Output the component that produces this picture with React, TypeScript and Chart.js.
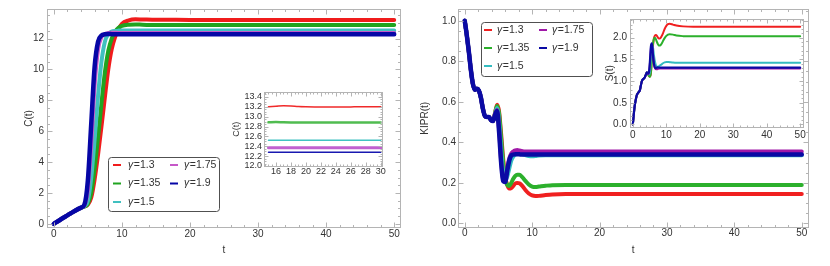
import React, { useEffect, useRef } from 'react';
import { Chart, registerables } from 'chart.js';
Chart.register(...registerables);

const FONT = '"Liberation Sans", Arial, sans-serif';
const TXT = '#333';
const FRAME = '#b4b4b4';

const LABELS = ['γ=1.3', 'γ=1.35', 'γ=1.5', 'γ=1.75', 'γ=1.9'];

// ---------- Left main: C(t) ----------
const tC = [0, 1, 2, 3, 4, 4.5, 5, 5.5, 6, 6.5, 7, 7.5, 8, 8.5, 9, 9.5, 10, 11, 12, 13, 15, 18, 22, 30, 40, 50];
const cG130 = [0, 0.28, 0.55, 0.82, 1.05, 1.12, 1.25, 1.7, 2.9, 4.5, 6.3, 8.2, 10.0, 11.3, 12.1, 12.6, 12.95, 13.18, 13.25, 13.24, 13.22, 13.22, 13.2, 13.2, 13.2, 13.2];
const cG135 = [0, 0.28, 0.55, 0.82, 1.05, 1.12, 1.3, 2.0, 3.6, 5.6, 7.8, 9.8, 11.2, 12.0, 12.45, 12.7, 12.82, 12.9, 12.92, 12.9, 12.88, 12.88, 12.88, 12.88, 12.88, 12.88];
const cG150 = [0, 0.28, 0.55, 0.82, 1.05, 1.15, 1.5, 3.0, 5.5, 8.3, 10.5, 11.8, 12.3, 12.45, 12.5, 12.52, 12.53, 12.53, 12.52, 12.52, 12.52, 12.52, 12.52, 12.52, 12.52, 12.52];
const cG175 = [0, 0.28, 0.55, 0.82, 1.05, 1.2, 2.2, 5.2, 9.0, 11.3, 12.1, 12.3, 12.36, 12.38, 12.38, 12.37, 12.37, 12.37, 12.37, 12.37, 12.37, 12.37, 12.37, 12.37, 12.37, 12.37];
const cG190 = [0, 0.28, 0.55, 0.82, 1.05, 1.25, 2.8, 6.5, 10.2, 11.8, 12.2, 12.28, 12.3, 12.29, 12.28, 12.28, 12.28, 12.28, 12.28, 12.28, 12.28, 12.28, 12.28, 12.28, 12.28, 12.28];

// ---------- Left inset: C(t), t in [15,30] ----------
const tI = [15, 16, 17, 18, 19, 20, 22, 24, 26, 28, 30];
const iG130 = [13.2, 13.21, 13.22, 13.215, 13.205, 13.2, 13.195, 13.195, 13.198, 13.2, 13.2];
const iG135 = [12.885, 12.89, 12.885, 12.882, 12.88, 12.88, 12.88, 12.88, 12.88, 12.88, 12.88];
const iG150 = [12.52, 12.52, 12.52, 12.52, 12.52, 12.52, 12.52, 12.52, 12.52, 12.52, 12.52];
const iG175 = [12.37, 12.37, 12.37, 12.37, 12.37, 12.37, 12.37, 12.37, 12.37, 12.37, 12.37];
const iG190 = [12.28, 12.28, 12.28, 12.28, 12.28, 12.28, 12.28, 12.28, 12.28, 12.28, 12.28];

// ---------- Right: KIPR(t) and S(t) ----------
const tD = [0, 0.3, 0.6, 0.9, 1.2, 1.5, 1.8, 2.1, 2.4, 2.7, 3.0, 3.3, 3.6, 3.9, 4.2,
  4.5, 4.8, 5.1, 5.4, 5.7, 6.0, 6.3, 6.6, 6.9, 7.2, 7.5, 7.8, 8.1,
  8.5, 9, 9.5, 10, 10.5, 11, 12, 13, 15, 18, 22, 30, 40, 50];

const kEarly = [1.0, 0.93, 0.85, 0.76, 0.69, 0.66, 0.665, 0.655, 0.62, 0.565, 0.53, 0.525, 0.525, 0.51, 0.505];
const kG130 = [...kEarly, 0.545, 0.585, 0.55, 0.44, 0.32, 0.23, 0.19, 0.172, 0.175, 0.185, 0.197, 0.2, 0.198,
  0.187, 0.165, 0.148, 0.138, 0.135, 0.136, 0.14, 0.143, 0.145, 0.145, 0.145, 0.145, 0.145, 0.145];
const kG135 = [...kEarly, 0.545, 0.58, 0.54, 0.42, 0.3, 0.22, 0.19, 0.185, 0.2, 0.22, 0.235, 0.24, 0.24,
  0.23, 0.21, 0.192, 0.182, 0.18, 0.182, 0.186, 0.189, 0.19, 0.19, 0.19, 0.19, 0.19, 0.19];
const kG150 = [...kEarly, 0.54, 0.57, 0.5, 0.36, 0.25, 0.215, 0.23, 0.27, 0.31, 0.33, 0.34, 0.345, 0.345,
  0.342, 0.337, 0.333, 0.332, 0.333, 0.335, 0.336, 0.336, 0.336, 0.336, 0.336, 0.336, 0.336, 0.336];
const kG175 = [...kEarly, 0.54, 0.56, 0.46, 0.31, 0.215, 0.21, 0.27, 0.32, 0.345, 0.355, 0.36, 0.362, 0.36,
  0.357, 0.355, 0.355, 0.355, 0.355, 0.355, 0.355, 0.355, 0.355, 0.355, 0.355, 0.355, 0.355, 0.355];
const kG190 = [...kEarly, 0.535, 0.555, 0.45, 0.3, 0.21, 0.205, 0.26, 0.31, 0.335, 0.34, 0.342, 0.342, 0.341,
  0.34, 0.34, 0.34, 0.34, 0.34, 0.34, 0.34, 0.34, 0.34, 0.34, 0.34, 0.34, 0.34, 0.34];

const sEarly = [0, 0.25, 0.45, 0.58, 0.68, 0.72, 0.75, 0.79, 0.9, 1.0, 1.04, 1.06, 1.09, 1.15, 1.2];
const sG130 = [...sEarly, 1.16, 1.12, 1.1, 1.18, 1.5, 1.8, 1.98, 2.05, 2.06, 2.04, 2.0, 1.98, 1.98,
  2.02, 2.1, 2.2, 2.27, 2.31, 2.32, 2.3, 2.28, 2.26, 2.25, 2.25, 2.25, 2.25, 2.25];
const sG135 = [...sEarly, 1.16, 1.12, 1.1, 1.2, 1.55, 1.85, 1.98, 2.0, 1.96, 1.9, 1.85, 1.82, 1.82,
  1.85, 1.92, 1.99, 2.04, 2.07, 2.08, 2.07, 2.05, 2.035, 2.03, 2.03, 2.03, 2.03, 2.03];
const sG150 = [...sEarly, 1.16, 1.15, 1.2, 1.55, 1.8, 1.78, 1.6, 1.45, 1.36, 1.33, 1.33, 1.34, 1.36,
  1.38, 1.41, 1.43, 1.44, 1.44, 1.435, 1.425, 1.42, 1.42, 1.42, 1.42, 1.42, 1.42, 1.42];
const sG175 = [...sEarly, 1.16, 1.18, 1.4, 1.75, 1.86, 1.65, 1.42, 1.3, 1.27, 1.27, 1.28, 1.285, 1.29,
  1.29, 1.29, 1.29, 1.29, 1.29, 1.29, 1.29, 1.29, 1.29, 1.29, 1.29, 1.29, 1.29, 1.29];
const sG190 = [...sEarly, 1.17, 1.2, 1.45, 1.8, 1.87, 1.6, 1.4, 1.31, 1.3, 1.31, 1.315, 1.31, 1.31,
  1.31, 1.31, 1.31, 1.31, 1.31, 1.31, 1.31, 1.31, 1.31, 1.31, 1.31, 1.31, 1.31, 1.31];

// ---------- Tick labels ----------
const xTicksMain = [0, 10, 20, 30, 40, 50];
const yTicksC = [0, 2, 4, 6, 8, 10, 12];
const yTicksK = [0, 0.2, 0.4, 0.6, 0.8, 1.0];
const xTicksInsetC = [16, 18, 20, 22, 24, 26, 28, 30];
const yTicksInsetC = [12.0, 12.2, 12.4, 12.6, 12.8, 13.0, 13.2, 13.4];
const yTicksS = [0, 0.5, 1.0, 1.5, 2.0];

const colorsLeft = ['#f01c1c', '#20a420', '#40c0c0', '#c658c8', '#0606a6'];
const colorsLeftInset = ['#f02a2a', '#50bc50', '#40c2c2', '#c060d0', '#1818b0'];
const colorsRight = ['#f02020', '#2cb02c', '#34bcc0', '#a018a8', '#0a0aa4'];

// ---------- plugins ----------
const framePlugin = {
  id: 'frame',
  beforeDatasetsDraw(chart: any, _a: any, o: any) {
    if (!o || !o.fill) return;
    const { ctx, chartArea: a } = chart;
    ctx.save();
    ctx.fillStyle = o.fill;
    ctx.fillRect(a.left, a.top, a.right - a.left, a.bottom - a.top);
    ctx.restore();
  },
  afterDraw(chart: any, _a: any, o: any) {
    if (!o || !o.color) return;
    const { ctx, chartArea: a, scales } = chart;
    const xs = scales.x, ys = scales.y;
    ctx.save();
    ctx.strokeStyle = o.color;
    ctx.lineWidth = 1;
    const L = Math.round(a.left) + 0.5, R = Math.round(a.right) - 0.5;
    const T = Math.round(a.top) + 0.5, B = Math.round(a.bottom) - 0.5;
    ctx.strokeRect(L, T, R - L, B - T);
    ctx.beginPath();
    const run = (sc: any, step: number, len: number, horiz: boolean) => {
      const start = Math.ceil((sc.min - 1e-9) / step);
      for (let k = start; k * step <= sc.max + 1e-9; k++) {
        const p = Math.round(sc.getPixelForValue(k * step)) + 0.5;
        if (horiz) {
          ctx.moveTo(p, B); ctx.lineTo(p, B - len);
          ctx.moveTo(p, T); ctx.lineTo(p, T + len);
        } else {
          ctx.moveTo(L, p); ctx.lineTo(L + len, p);
          ctx.moveTo(R, p); ctx.lineTo(R - len, p);
        }
      }
    };
    run(xs, o.xMajor, o.majorLen, true);
    run(xs, o.xMinor, o.minorLen, true);
    run(ys, o.yMajor, o.majorLen, false);
    run(ys, o.yMinor, o.minorLen, false);
    ctx.stroke();
    ctx.restore();
  },
};

const legendPlugin = {
  id: 'glegend',
  afterDraw(chart: any, _a: any, o: any) {
    if (!o || !o.box) return;
    const { ctx } = chart;
    const [bx, by, bw, bh] = o.box;
    ctx.save();
    ctx.beginPath();
    if (ctx.roundRect) ctx.roundRect(bx + 0.5, by + 0.5, bw, bh, 3);
    else ctx.rect(bx + 0.5, by + 0.5, bw, bh);
    ctx.fillStyle = '#fff';
    ctx.fill();
    ctx.strokeStyle = '#505050';
    ctx.lineWidth = 1;
    ctx.stroke();
    chart.data.datasets.forEach((ds: any, i: number) => {
      const [col, row] = o.place[i];
      const y = o.rows[row];
      const [lx, tx] = o.cols[col];
      ctx.strokeStyle = ds.borderColor;
      ctx.lineWidth = 2;
      ctx.beginPath();
      ctx.moveTo(lx, y);
      ctx.lineTo(lx + 8, y);
      ctx.stroke();
      const label: string = ds.label;
      ctx.fillStyle = TXT;
      ctx.textBaseline = 'middle';
      ctx.textAlign = 'left';
      ctx.font = `italic ${o.size}px ${FONT}`;
      ctx.fillText(label[0], tx, y);
      const w = ctx.measureText(label[0]).width;
      ctx.font = `${o.size}px ${FONT}`;
      ctx.fillText(label.slice(1), tx + w + 0.5, y);
    });
    ctx.restore();
  },
};

type Spec = {
  box: { x: number; y: number; w: number; h: number };
  area: { l: number; t: number; r: number; b: number };
  t: number[];
  ys: number[][];
  colors: string[];
  widths: number[];
  xMin: number; xMax: number; xTicks: number[]; xDec: number; xMinor: number; xMajor: number;
  yMin: number; yMax: number; yTicks: number[]; yDec: number; yMinor: number; yMajor: number;
  xTitle?: string; yTitle: string;
  tickSize: number; titleSize: number;
  yTitlePad: number; xTitlePad: number;
  xLabelPad: number; yLabelPad: number;
  majorLen: number; minorLen: number;
  fill?: string;
  legend?: any;
};

function buildConfig(s: Spec): any {
  const padTop = s.area.t - s.box.y;
  const padRight = s.box.x + s.box.w - s.area.r;
  const yW = s.area.l - s.box.x;
  const xH = s.box.y + s.box.h - s.area.b;
  const n = s.ys.length;
  const datasets = s.ys.map((ys, i) => ({
    label: LABELS[i],
    data: s.t.map((t, j) => ({ x: t, y: ys[j] })),
    borderColor: s.colors[i],
    backgroundColor: s.colors[i],
    borderWidth: s.widths[i],
    pointRadius: 0,
    fill: false,
    cubicInterpolationMode: 'monotone',
    borderCapStyle: 'round',
    borderJoinStyle: 'round',
    order: n - 1 - i,
  }));
  return {
    type: 'line',
    data: { datasets },
    plugins: [framePlugin, legendPlugin],
    options: {
      responsive: false,
      animation: false,
      events: [],
      layout: { padding: { left: 0, top: padTop, right: padRight, bottom: 0 }, autoPadding: false },
      plugins: {
        legend: { display: false },
        tooltip: { enabled: false },
        frame: {
          color: FRAME, fill: s.fill,
          xMajor: s.xMajor, xMinor: s.xMinor, yMajor: s.yMajor, yMinor: s.yMinor,
          majorLen: s.majorLen, minorLen: s.minorLen,
        },
        glegend: s.legend || {},
      },
      scales: {
        x: {
          type: 'linear', position: 'bottom', min: s.xMin, max: s.xMax,
          grid: { display: false, drawTicks: false, tickLength: 0 }, border: { display: false },
          ticks: {
            color: TXT, font: { family: FONT, size: s.tickSize }, padding: s.xLabelPad,
            maxRotation: 0, autoSkip: false,
            callback: (v: any) => Number(v).toFixed(s.xDec),
          },
          title: {
            display: !!s.xTitle, text: s.xTitle || '', color: TXT,
            font: { family: FONT, size: s.titleSize }, padding: { top: 0, bottom: s.xTitlePad },
          },
          afterBuildTicks: (sc: any) => { sc.ticks = s.xTicks.map((v) => ({ value: v })); },
          afterFit: (sc: any) => { sc.height = xH; sc.paddingLeft = 0; sc.paddingRight = 0; },
        },
        y: {
          type: 'linear', position: 'left', min: s.yMin, max: s.yMax,
          grid: { display: false, drawTicks: false, tickLength: 0 }, border: { display: false },
          ticks: {
            color: TXT, font: { family: FONT, size: s.tickSize }, padding: s.yLabelPad,
            autoSkip: false,
            callback: (v: any) => Number(v).toFixed(s.yDec),
          },
          title: {
            display: true, text: s.yTitle, color: TXT,
            font: { family: FONT, size: s.titleSize }, padding: { top: s.yTitlePad, bottom: 0 },
          },
          afterBuildTicks: (sc: any) => { sc.ticks = s.yTicks.map((v) => ({ value: v })); },
          afterFit: (sc: any) => { sc.width = yW; sc.paddingTop = 0; sc.paddingBottom = 0; },
        },
      },
    },
  };
}

function Panel({ spec }: { spec: Spec }) {
  const ref = useRef<HTMLCanvasElement | null>(null);
  useEffect(() => {
    const chart = new Chart(ref.current as HTMLCanvasElement, buildConfig(spec));
    return () => chart.destroy();
  }, []);
  const b = spec.box;
  return (
    <canvas
      ref={ref}
      width={b.w}
      height={b.h}
      style={{ position: 'absolute', left: b.x, top: b.y, width: b.w, height: b.h }}
    />
  );
}

const leftMain: Spec = {
  box: { x: 0, y: 0, w: 415, h: 266 },
  area: { l: 47, t: 9, r: 401, b: 228 },
  t: tC, ys: [cG130, cG135, cG150, cG175, cG190],
  colors: colorsLeft, widths: [4, 4, 4, 4, 4.5],
  xMin: -1, xMax: 51, xTicks: xTicksMain, xDec: 0, xMajor: 10, xMinor: 2,
  yMin: -0.27, yMax: 13.92, yTicks: yTicksC, yDec: 0, yMajor: 2, yMinor: 0.5,
  xTitle: 't', yTitle: 'C(t)',
  tickSize: 10, titleSize: 10, yTitlePad: 23, xTitlePad: 10, xLabelPad: 0, yLabelPad: 3,
  majorLen: 5, minorLen: 2.5,
  legend: {
    box: [108, 157, 111, 54], size: 10.5,
    rows: [165, 183.5, 202], cols: [[113, 128], [170, 184]],
    place: [[0, 0], [0, 1], [0, 2], [1, 0], [1, 1]],
  },
};

const leftInset: Spec = {
  box: { x: 225, y: 85, w: 170, h: 95 },
  area: { l: 264, t: 92, r: 383, b: 166.5 },
  t: tI, ys: [iG130, iG135, iG150, iG175, iG190],
  colors: colorsLeftInset, widths: [1.5, 2.5, 1.5, 3, 1.5],
  xMin: 14.4, xMax: 30.3, xTicks: xTicksInsetC, xDec: 0, xMajor: 2, xMinor: 0.5,
  yMin: 11.99, yMax: 13.5, yTicks: yTicksInsetC, yDec: 1, yMajor: 0.2, yMinor: 0.05,
  yTitle: 'C(t)',
  tickSize: 9, titleSize: 9, yTitlePad: 6.6, xTitlePad: 0, xLabelPad: 0, yLabelPad: 2,
  majorLen: 4, minorLen: 2, fill: '#ffffff',
};

const rightMain: Spec = {
  box: { x: 415, y: 0, w: 415, h: 266 },
  area: { l: 458, t: 9, r: 808.5, b: 227.5 },
  t: tD, ys: [kG130, kG135, kG150, kG175, kG190],
  colors: colorsRight, widths: [4, 4, 4, 4, 4.5],
  xMin: -1, xMax: 51, xTicks: xTicksMain, xDec: 0, xMajor: 10, xMinor: 2,
  yMin: -0.02, yMax: 1.058, yTicks: yTicksK, yDec: 1, yMajor: 0.2, yMinor: 0.05,
  xTitle: 't', yTitle: 'KIPR(t)',
  tickSize: 10, titleSize: 10, yTitlePad: 4, xTitlePad: 10, xLabelPad: 0, yLabelPad: 2,
  majorLen: 5, minorLen: 2.5,
  legend: {
    box: [66, 22, 111, 54], size: 10.5,
    rows: [30, 48, 66], cols: [[69, 82], [124, 137]],
    place: [[0, 0], [0, 1], [0, 2], [1, 0], [1, 1]],
  },
};

const rightInset: Spec = {
  box: { x: 598, y: 12, w: 208, h: 132 },
  area: { l: 629.5, t: 19, r: 803.5, b: 127.5 },
  t: tD, ys: [sG130, sG135, sG150, sG175, sG190],
  colors: colorsRight, widths: [2, 2, 2, 2, 2.2],
  xMin: -1, xMax: 51, xTicks: xTicksMain, xDec: 0, xMajor: 10, xMinor: 2,
  yMin: -0.07, yMax: 2.43, yTicks: yTicksS, yDec: 1, yMajor: 0.5, yMinor: 0.1,
  yTitle: 'S(t)',
  tickSize: 10, titleSize: 10, yTitlePad: 6, xTitlePad: 0, xLabelPad: 2, yLabelPad: 2.5,
  majorLen: 4, minorLen: 2, fill: '#ffffff',
};

export default function App() {
  return (
    <div style={{ position: 'absolute', left: 0, top: 0, width: 830, height: 266, background: '#fff', overflow: 'hidden' }}>
      <Panel spec={leftMain} />
      <Panel spec={rightMain} />
      <Panel spec={leftInset} />
      <Panel spec={rightInset} />
    </div>
  );
}
